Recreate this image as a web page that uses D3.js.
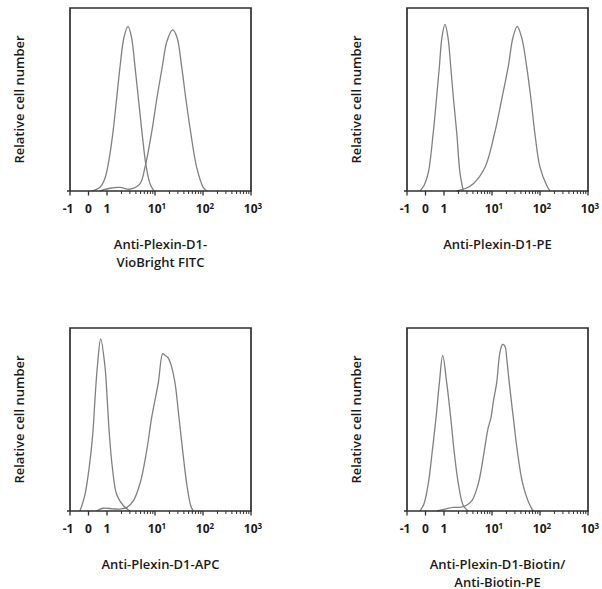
<!DOCTYPE html>
<html>
<head>
<meta charset="utf-8">
<script src="https://cdn.jsdelivr.net/npm/d3@7"></script>
<style>
  body { margin: 0; background: #fff; }
  text { font-family: "Open Sans", sans-serif; font-weight: 600; fill: #1a1a1a; }
</style>
</head>
<body>
<div id="chart"></div>
<script>
// panel titles (x axis labels)
var titles = [
  ["Anti-Plexin-D1-", "VioBright FITC"],
  ["Anti-Plexin-D1-PE"],
  ["Anti-Plexin-D1-APC"],
  ["Anti-Plexin-D1-Biotin/", "Anti-Biotin-PE"]
];
var yTitle = "Relative cell number";

// x axis ticks: value, base, exponent
var tickValues = [-1, 0, 1, 10, 100, 1000];
var tickBase   = ["-1", "0", "1", "10", "10", "10"];
var tickExp    = ["", "", "", "1", "2", "3"];

// histograms: [fluorescence, relative count]
var control1 = [[0.19,0],[0.62,0.02],[0.89,0.07],[1.1,0.17],[1.33,0.32],[1.58,0.5],[1.87,0.68],
  [2.26,0.84],[2.74,0.9],[3.24,0.84],[3.83,0.68],[4.53,0.5],[5.36,0.32],[6.49,0.14],[7.87,0.04],[9.52,0]];
var stained1 = [[0.62,0],[1.15,0.015],[1.87,0.02],[3.01,0.01],[4.87,0.04],[6.19,0.13],[8.51,0.32],
  [10.85,0.5],[14.2,0.68],[17.8,0.82],[23.4,0.88],[28.7,0.84],[35.9,0.68],[44.1,0.5],[55.4,0.32],
  [73.7,0.13],[101,0.02],[121,0]];

var control2 = [[-0.3,0],[-0.08,0.03],[0.15,0.1],[0.42,0.32],[0.59,0.5],[0.75,0.68],[0.89,0.84],
  [1.05,0.91],[1.21,0.84],[1.38,0.68],[1.58,0.5],[1.84,0.32],[2.15,0.1],[2.52,0]];
var stained2 = [[1.84,0],[2.87,0.015],[4.08,0.04],[7.15,0.13],[11.2,0.31],[15.9,0.5],[21.8,0.68],
  [27.4,0.84],[33.6,0.9],[42.2,0.83],[52.8,0.68],[65,0.5],[78.6,0.31],[100,0.13],[138,0.03],[162,0]];

var control3 = [[-0.46,0],[-0.19,0.09],[0.04,0.24],[0.23,0.42],[0.35,0.61],[0.48,0.79],[0.66,0.94],
  [0.89,0.79],[1.01,0.61],[1.12,0.42],[1.29,0.24],[1.59,0.09],[2.18,0.03],[3.01,0]];
var stained3 = [[0.44,0],[0.78,0.015],[1.33,0.012],[1.87,0.01],[2.61,0.02],[3.53,0.055],[4.87,0.15],
  [6.72,0.33],[8.51,0.51],[11.7,0.7],[14.5,0.86],[16.2,0.85],[18.4,0.84],[21.5,0.8],[26.1,0.7],
  [31.6,0.51],[37.7,0.33],[45.7,0.15],[55.4,0.03],[62.9,0]];

var control4 = [[-0.3,0],[-0.08,0.04],[0.15,0.15],[0.37,0.33],[0.57,0.51],[0.75,0.7],[0.93,0.85],
  [1.14,0.7],[1.38,0.51],[1.62,0.33],[1.99,0.15],[2.52,0.03],[3.21,0]];
var stained4 = [[0.61,0],[1.05,0.01],[1.54,0.02],[2.15,0.02],[2.87,0.03],[3.78,0.055],[5.19,0.15],
  [6.92,0.33],[8.25,0.45],[9.52,0.51],[10.7,0.6],[12.5,0.7],[14.7,0.87],[16.7,0.91],[18.6,0.9],
  [20.5,0.82],[22.9,0.7],[27.8,0.51],[33.6,0.33],[43.6,0.15],[62,0.03],[72.6,0]];

var controls = [control1, control2, control3, control4];
var stained  = [stained1, stained2, stained3, stained4];

var W = 602, H = 589;
var pw = 181, ph = 183;
var origins = [[70, 8], [407, 8], [70, 328], [407, 328]];

var svg = d3.select("#chart").append("svg")
  .attr("width", W)
  .attr("height", H);

// biexponential-like axis: linear from -1 to 1, log from 1 to 1000
var xLin = d3.scaleLinear().domain([-1, 1]).range([0, 37]);
var xLog = d3.scaleLog().domain([1, 1000]).range([37, pw]);
function x(v) { return v <= 1 ? xLin(v) : xLog(v); }

var y = d3.scaleLinear().domain([0, 1]).range([ph, 0]);

var line = d3.line()
  .x(function(d) { return x(d[0]); })
  .y(function(d) { return y(d[1]); })
  .curve(d3.curveCatmullRom.alpha(0.5));

var minorTicks = xLog.ticks().filter(function(v) { return tickValues.indexOf(v) < 0; });

origins.forEach(function(o, i) {
  var g = svg.append("g").attr("transform", "translate(" + o[0] + "," + o[1] + ")");

  // curves
  [controls[i], stained[i]].forEach(function(s) {
    g.append("path")
      .datum(s)
      .attr("d", line)
      .attr("fill", "none")
      .attr("stroke", "#808080")
      .attr("stroke-width", 1.3);
  });

  // frame
  g.append("path")
    .attr("d", "M0," + ph + "V0H" + pw + "V" + ph)
    .attr("fill", "none")
    .attr("stroke", "#2e2e2e")
    .attr("stroke-width", 1.7);

  // x axis line
  g.append("line")
    .attr("x1", -3).attr("x2", pw + 1)
    .attr("y1", ph).attr("y2", ph)
    .attr("stroke", "#2e2e2e")
    .attr("stroke-width", 1.7);

  g.selectAll(".major")
    .data(tickValues).enter()
    .append("line")
    .attr("class", "major")
    .attr("x1", function(d) { return x(d); })
    .attr("x2", function(d) { return x(d); })
    .attr("y1", ph).attr("y2", ph + 4.5)
    .attr("stroke", "#2e2e2e")
    .attr("stroke-width", 1.3);

  g.selectAll(".minor")
    .data(minorTicks).enter()
    .append("line")
    .attr("class", "minor")
    .attr("x1", function(d) { return x(d); })
    .attr("x2", function(d) { return x(d); })
    .attr("y1", ph).attr("y2", ph + 3)
    .attr("stroke", "#2e2e2e")
    .attr("stroke-width", 1);

  var lab = g.selectAll(".tl")
    .data(tickValues).enter()
    .append("text")
    .attr("class", "tl")
    .attr("x", function(d, j) { return x(d) + (j === 0 ? -2 : (tickExp[j] ? 2 : 0)); })
    .attr("y", ph + 22)
    .attr("text-anchor", "middle")
    .style("font-size", "12px")
    .style("font-weight", 700);
  lab.append("tspan").text(function(d, j) { return tickBase[j]; });
  lab.append("tspan")
    .attr("dy", "-0.45em")
    .style("font-size", "8px")
    .text(function(d, j) { return tickExp[j]; });

  // y title
  g.append("text")
    .attr("transform", "translate(-46," + (ph / 2) + ") rotate(-90)")
    .attr("text-anchor", "middle")
    .style("font-size", "13px")
    .text(yTitle);

  // x title
  g.selectAll(".xt")
    .data(titles[i]).enter()
    .append("text")
    .attr("class", "xt")
    .attr("x", pw / 2)
    .attr("y", function(d, j) { return ph + 58 + j * 17.5; })
    .attr("text-anchor", "middle")
    .style("font-size", "13px")
    .text(function(d) { return d; });
});
</script>
</body>
</html>
